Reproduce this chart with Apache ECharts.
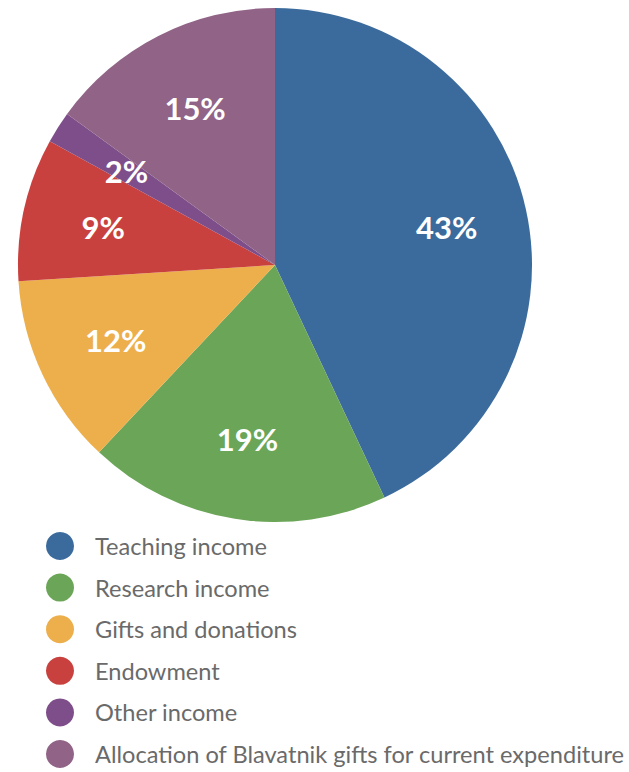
<!DOCTYPE html>
<html>
<head>
<meta charset="utf-8">
<script src="https://cdn.jsdelivr.net/npm/echarts@6/dist/echarts.min.js"></script>
<style>
    html, body { margin: 0; padding: 0; background: #fff; }
    #income_pie { width: 629px; height: 772px; }
</style>
</head>
<body>
<div id="income_pie"></div>
<script>
    // income shares, in percent
    const categories = ['Teaching income', 'Research income', 'Gifts and donations', 'Endowment', 'Other income', 'Allocation of Blavatnik gifts for current expenditure'];
    const shares = [43, 19, 12, 9, 2, 15];
    const sliceColors = ['#3b6b9c', '#6ba557', '#edaf4b', '#c9413e', '#7e4e8a', '#906387'];

    const pieData = categories.map((name, i) => ({value: shares[i], name: name}));

    let chartElement = document.getElementById('income_pie');
    let pie_chart = echarts.init(chartElement, null, {renderer: 'svg'});
    pie_chart.setOption({
        color: sliceColors,
        animation: false,
        legend: {
            orient: 'vertical',
            left: 46,
            top: 532,
            padding: 0,
            height: 240,
            icon: 'circle',
            itemWidth: 28,
            itemHeight: 28,
            itemGap: 13.6,
            selectedMode: false,
            data: categories,
            textStyle: {
                fontFamily: 'Lato',
                fontSize: 23.6,
                color: '#6a6a6a',
                padding: [0, 0, 0, 16]
            }
        },
        series: [
            {
                // the slices themselves
                type: 'pie',
                center: [275, 265],
                radius: [0, 257],
                startAngle: 90,
                clockwise: true,
                label: {show: false},
                labelLine: {show: false},
                emphasis: {disabled: true},
                data: pieData
            },
            {
                // invisible ring that only carries the percentage labels
                type: 'pie',
                center: [275, 265],
                radius: [89, 257],
                startAngle: 90,
                clockwise: true,
                silent: true,
                itemStyle: {color: 'rgba(0,0,0,0)'},
                label: {
                    show: true,
                    position: 'inside',
                    formatter: '{c}%',
                    color: '#ffffff',
                    fontFamily: 'Lato',
                    fontWeight: 'bold',
                    fontSize: 31
                },
                labelLine: {show: false},
                emphasis: {disabled: true},
                data: pieData
            }
        ]
    });
</script>
</body>
</html>
